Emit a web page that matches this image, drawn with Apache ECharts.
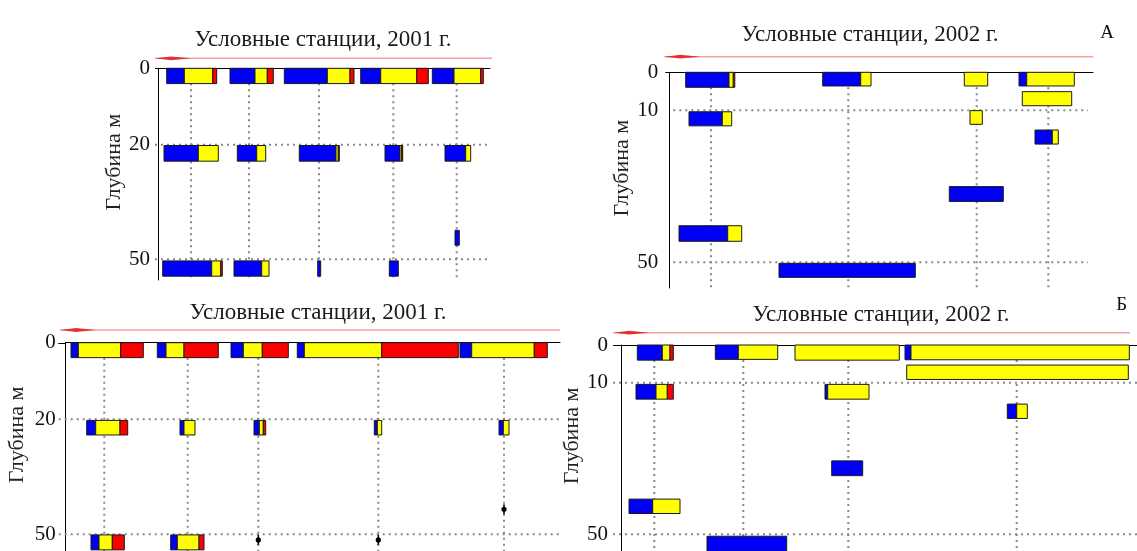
<!DOCTYPE html>
<html><head><meta charset="utf-8">
<script src="https://cdn.jsdelivr.net/npm/echarts@6/dist/echarts.min.js"></script>
<style>html,body{margin:0;padding:0;background:#fff}#c{width:1137px;height:551px}</style>
</head><body><div id="c"></div>
<script>
// ---------- texts ----------
const titles = ['Условные станции, 2001 г.', 'Условные станции, 2002 г.', 'Условные станции, 2001 г.', 'Условные станции, 2002 г.'];
const panelLetters = ['А', 'Б'];
const yAxisName = 'Глубина м';
const depthTicks2001 = [0, 20, 50];
const depthTicks2002 = [0, 10, 50];

// ---------- station positions along the profile (x units) ----------
const stationsA2001 = [33, 91, 161, 235.3, 298.7];
const stationsA2002 = [41.7, 179, 307.4, 379];
const stationsB2001 = [38.6, 122, 192.6, 312.6, 438.3];
const stationsB2002 = [33.3, 122.3, 227.3, 395.7];

// ---------- bars: [xStart, depthTop, depthBottom, blue, yellow, red] ----------
const barsA2001 = [
  [8.7, 0, 4, 17.6, 28.4, 4],
  [72, 0, 4, 25, 12.3, 6],
  [126.3, 0, 4, 43, 22.7, 4],
  [202.7, 0, 4, 20, 36, 11.6],
  [274.3, 0, 4, 21.7, 26.7, 2.6],
  [6, 20.2, 24.3, 34.3, 20, 0],
  [79.3, 20.2, 24.3, 19.4, 9, 0],
  [141.3, 20.2, 24.3, 36.7, 2.3, 1],
  [227, 20.2, 24.3, 15, 1.7, 1],
  [287, 20.2, 24.3, 20.7, 5, 0],
  [4.7, 50.4, 54.4, 49, 9, 1.6],
  [76, 50.4, 54.4, 27.7, 7.3, 0],
  [159.7, 50.4, 54.4, 3, 0, 0],
  [231.3, 50.4, 54.4, 9, 0, 0],
  [297, 42.4, 46.3, 4.3, 0, 0]
];
const barsA2002 = [
  [16.4, 0, 3.95, 43.3, 4.3, 1.5],
  [19.7, 10.4, 14.1, 33.3, 9.4, 0],
  [9.7, 40.4, 44.5, 48.7, 14, 0],
  [153.4, 0, 3.6, 38, 10.3, 0],
  [109.7, 50.3, 54, 136.3, 0, 0],
  [295, 0, 3.6, 0, 23.4, 0],
  [300.7, 10.1, 13.7, 0, 12.3, 0],
  [280, 30.1, 34, 54, 0, 0],
  [349.7, 0, 3.6, 7.7, 47.6, 0],
  [353, 5.1, 8.8, 0, 49.4, 0],
  [365.7, 15.2, 18.9, 17.3, 6, 0]
];
const barsB2001 = [
  [5.3, 0, 3.9, 7.3, 42.4, 22.6],
  [91.6, 0, 3.9, 8.7, 18, 34.3],
  [165.3, 0, 3.9, 12.3, 19, 26],
  [231.6, 0, 3.9, 7, 77.4, 76.6],
  [394.3, 0, 3.9, 11.7, 62.6, 13],
  [21, 20.3, 24.1, 9, 24.3, 7.7],
  [114.3, 20.3, 24.1, 4, 11, 0],
  [188.3, 20.3, 24.1, 5.3, 4, 2.4],
  [308.6, 20.3, 24.1, 3, 4.4, 0],
  [433.3, 20.3, 24.1, 4.3, 5.7, 0],
  [25.3, 50.2, 54.1, 8, 13.3, 12],
  [105, 50.2, 54.1, 6.6, 21.7, 5]
];
const markersB2001 = [[192.6, 51.5], [312.6, 51.5], [438.3, 43.5]];
const barsB2002 = [
  [16.3, 0, 4, 25, 7.7, 3.3],
  [15, 10.4, 14.3, 20, 11.3, 6],
  [8, 40.7, 44.5, 23.7, 27.3, 0],
  [94.3, 0, 3.8, 23, 39.4, 0],
  [86, 50.5, 54.5, 79.7, 0, 0],
  [174, 0, 4, 0, 104.3, 0],
  [204, 10.4, 14.3, 2.7, 41.3, 0],
  [210.7, 30.6, 34.5, 31, 0, 0],
  [284, 0, 3.9, 6, 218.3, 0],
  [285.7, 5.3, 9.1, 0, 221.6, 0],
  [386.3, 15.6, 19.4, 9.4, 10.6, 0]
];

// ---------- layout ----------
const FONT = '"Liberation Serif", "Times New Roman", serif';
const panels = [
  { grid: {left: 158, top: 68.3, width: 332, height: 211.7}, maxD: 55.4, ticks: depthTicks2001, gridDepths: [20, 50],
    stations: stationsA2001, bars: barsA2001, markers: [], hStart: -3, hEnd: 332, ext: 3, nameGap: 30, labelMargin: 8,
    title: [323, 40], arrow: [58.3, 155, 492] },
  { grid: {left: 669.3, top: 72.3, width: 423.7, height: 215.7}, maxD: 56.8, ticks: depthTicks2002, gridDepths: [10, 50],
    stations: stationsA2002, bars: barsA2002, markers: [], hStart: 4, hEnd: 418.7, ext: 4, nameGap: 32, labelMargin: 11,
    title: [870, 35], arrow: [56.7, 664.3, 1093.3] },
  { grid: {left: 65.7, top: 342.7, width: 494.3, height: 208.3}, maxD: 54.4, ticks: depthTicks2001, gridDepths: [20, 50],
    stations: stationsB2001, bars: barsB2001, markers: markersB2001, hStart: -7, hEnd: 494.3, ext: 7.4, nameGap: 37, labelMargin: 10,
    title: [318, 313.3], arrow: [330, 60, 560] },
  { grid: {left: 621, top: 345, width: 516, height: 206}, maxD: 54.4, ticks: depthTicks2002, gridDepths: [10, 50],
    stations: stationsB2002, bars: barsB2002, markers: [], hStart: -8, hEnd: 516, ext: 8, nameGap: 34, labelMargin: 13,
    title: [881, 315], arrow: [332.7, 613.3, 1130] }
];
const COLORS = ['#0000f6', '#ffff00', '#ff0000'];
const DOT = {stroke: '#888', lineWidth: 2, lineDash: [2, 4]};

const chart = echarts.init(document.getElementById('c'), null, {renderer: 'canvas'});
const grids = [], xAxes = [], yAxes = [], series = [], graphics = [];

panels.forEach((p, i) => {
  grids.push(Object.assign({containLabel: false}, p.grid));
  xAxes.push({ type: 'value', gridIndex: i, min: 0, max: p.grid.width, position: 'top',
    axisLine: {show: true, onZero: false, lineStyle: {color: '#000', width: 1}},
    axisTick: {show: false}, axisLabel: {show: false}, splitLine: {show: false} });
  yAxes.push({ type: 'value', gridIndex: i, min: 0, max: p.maxD, interval: 10, inverse: true,
    name: yAxisName, nameLocation: 'middle', nameGap: p.nameGap,
    nameTextStyle: {fontFamily: FONT, fontSize: 22, color: '#222', padding: [0, 0, 0, 24]},
    axisLine: {show: true, lineStyle: {color: '#000', width: 1}},
    axisTick: {show: false}, splitLine: {show: false},
    axisLabel: {fontFamily: FONT, fontSize: 21, color: '#111', margin: p.labelMargin, showMaxLabel: false,
      formatter: v => (p.ticks.indexOf(v) >= 0 ? String(v) : '')} });

  // station (vertical) dotted lines
  series.push({ type: 'custom', xAxisIndex: i, yAxisIndex: i, silent: true, z: 1,
    data: p.stations.map(s => [s]),
    renderItem: (params, api) => {
      const a = api.coord([api.value(0), 0]), b = api.coord([api.value(0), p.maxD]);
      return {type: 'line', shape: {x1: a[0], y1: a[1] + 3, x2: b[0], y2: b[1]}, style: DOT};
    } });
  // depth (horizontal) dotted lines
  series.push({ type: 'custom', xAxisIndex: i, yAxisIndex: i, silent: true, z: 1,
    data: p.gridDepths.map(d => [0, d]),
    renderItem: (params, api) => {
      const a = api.coord([p.hStart, api.value(1)]), b = api.coord([p.hEnd, api.value(1)]);
      return {type: 'line', shape: {x1: a[0], y1: a[1], x2: b[0], y2: b[1]}, style: DOT};
    } });
  // short extension of the surface line left of the depth axis
  series.push({ type: 'custom', xAxisIndex: i, yAxisIndex: i, silent: true, z: 1,
    data: [[0, 0]],
    renderItem: (params, api) => {
      const a = api.coord([-p.ext, 0]), b = api.coord([0, 0]);
      return {type: 'line', shape: {x1: a[0], y1: Math.round(a[1]) + 0.5, x2: b[0], y2: Math.round(b[1]) + 0.5}, style: {stroke: '#000', lineWidth: 1}};
    } });
  // stacked horizontal bars
  series.push({ type: 'custom', xAxisIndex: i, yAxisIndex: i, z: 3,
    data: p.bars,
    renderItem: (params, api) => {
      const x0 = api.value(0), dt = api.value(1), db = api.value(2);
      const w = [api.value(3), api.value(4), api.value(5)];
      const children = [];
      let x = x0;
      for (let k = 0; k < 3; k++) {
        if (w[k] <= 0) continue;
        const a = api.coord([x, dt]), b = api.coord([x + w[k], db]);
        children.push({type: 'rect', shape: {x: a[0], y: a[1], width: b[0] - a[0], height: b[1] - a[1]},
          style: {fill: COLORS[k], stroke: '#1a1a1a', lineWidth: 1}});
        x += w[k];
      }
      return {type: 'group', children};
    } });
  if (p.markers.length) {
    series.push({ type: 'custom', xAxisIndex: i, yAxisIndex: i, z: 4,
      data: p.markers,
      renderItem: (params, api) => {
        const c = api.coord([api.value(0), api.value(1)]);
        return {type: 'group', children: [
          {type: 'line', shape: {x1: c[0], y1: c[1] - 5, x2: c[0], y2: c[1] + 5}, style: {stroke: '#000', lineWidth: 1.5}},
          {type: 'circle', shape: {cx: c[0], cy: c[1], r: 2.6}, style: {fill: '#000'}}
        ]};
      } });
  }
  // title
  graphics.push({ type: 'text', x: p.title[0], y: p.title[1],
    style: {text: titles[i], fontFamily: FONT, fontSize: 23, fill: '#1a1a1a', align: 'center', verticalAlign: 'middle'} });
  // red direction arrow
  const [ay, ax0, ax1] = p.arrow;
  graphics.push({ type: 'line', shape: {x1: ax0, y1: ay, x2: ax1, y2: ay}, style: {stroke: '#f2a3a3', lineWidth: 1.5} });
  graphics.push({ type: 'polygon', shape: {points: [[ax0, ay], [ax0 + 16, ay - 1.9], [ax0 + 36, ay], [ax0 + 16, ay + 1.9]]},
    style: {fill: '#e01818', opacity: 0.85} });
});
graphics.push({ type: 'text', x: 1107, y: 33, style: {text: panelLetters[0], fontFamily: FONT, fontSize: 19, fill: '#111', align: 'center', verticalAlign: 'middle'} });
graphics.push({ type: 'text', x: 1121.7, y: 305, style: {text: panelLetters[1], fontFamily: FONT, fontSize: 19, fill: '#111', align: 'center', verticalAlign: 'middle'} });

chart.setOption({
  animation: false,
  backgroundColor: '#fff',
  grid: grids, xAxis: xAxes, yAxis: yAxes, series: series, graphic: graphics
});
</script></body></html>
